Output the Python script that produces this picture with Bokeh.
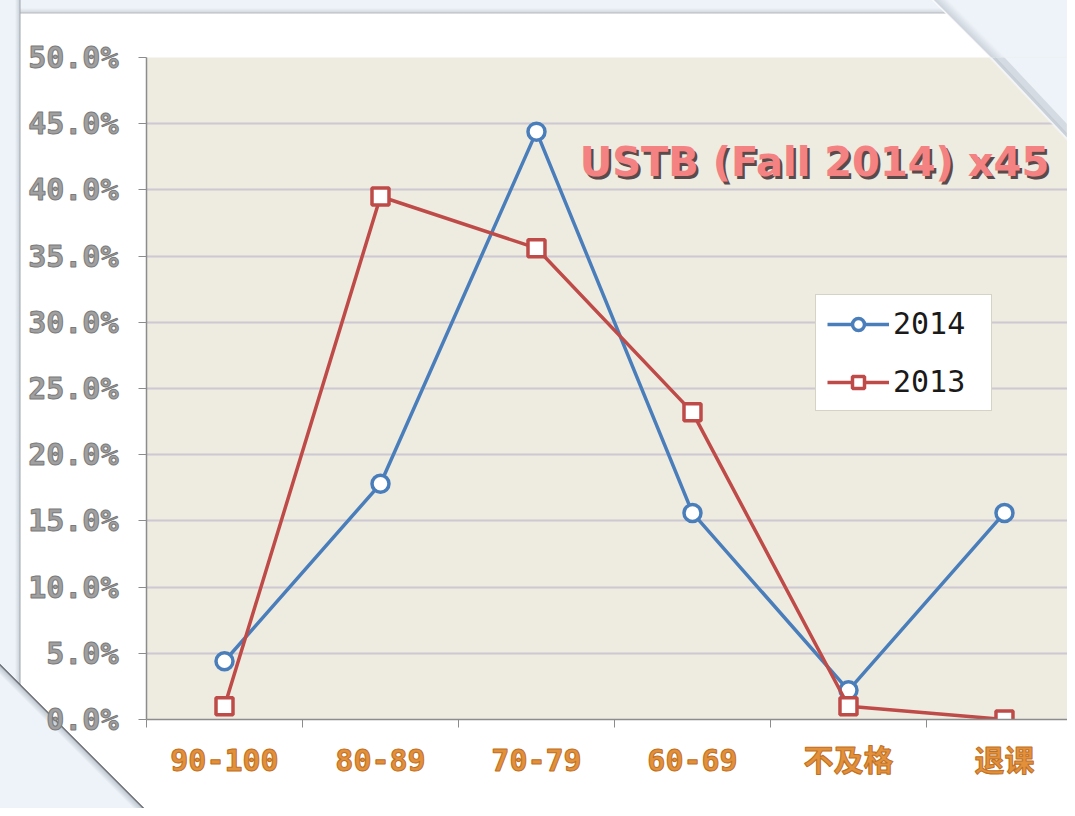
from bokeh.plotting import figure
from bokeh.models import (Range1d, FixedTicker, NumeralTickFormatter, PolyAnnotation,
                          Label, Legend, LegendItem)
from bokeh.embed import file_html
from bokeh.resources import INLINE

# ---- data ----
categories = ["90-100", "80-89", "70-79", "60-69", "不及格", "退课"]
pct_2014 = [4.4, 17.8, 44.4, 15.6, 2.2, 15.6]
pct_2013 = [1.0, 39.5, 35.6, 23.2, 1.0, 0.0]
y_tick_pct = [0, 5, 10, 15, 20, 25, 30, 35, 40, 45, 50]
series_names = ["2014", "2013"]
title_text = "USTB (Fall 2014) x45"

xs = list(range(len(categories)))
y14 = [v / 100 for v in pct_2014]
y13 = [v / 100 for v in pct_2013]

BLUE = "#4a7ebb"
RED = "#be4b48"
PAGE_BG = "#eef3f9"
BEIGE = "#eeebe1"
AXIS = "#8c8c8c"

W, H = 1067, 808
p = figure(width=W, height=H, output_backend="svg", toolbar_location=None,
           x_range=Range1d(-0.5, 5.404), y_range=Range1d(0, 0.5),
           min_border_left=146, min_border_top=57, min_border_bottom=89,
           min_border_right=0)
p.border_fill_color = None
p.border_fill_alpha = 0
p.background_fill_color = BEIGE
p.outline_line_color = None

# white card with cut corners behind the canvas (CSS background of the figure element)
card_bg = ", ".join([
    f"linear-gradient(225deg, {PAGE_BG} 0px, {PAGE_BG} 84px, #cdd4dc 93.5px, #ffffff 95px, transparent 96px)",
    f"linear-gradient(45deg, {PAGE_BG} 0px, {PAGE_BG} 94px, #c3cad2 100px, #55595e 101.5px, transparent 102.5px)",
    f"linear-gradient(to right, {PAGE_BG} 0px, {PAGE_BG} 15px, #cfd6dd 19px, #a0a5ab 20px, transparent 21px)",
    f"linear-gradient(to bottom, {PAGE_BG} 0px, {PAGE_BG} 8px, #d5dbe1 12px, #b4b9bf 13px, transparent 14px)",
    "#ffffff",
])
p.styles = {"background": card_bg}

# grid
p.xgrid.grid_line_color = None
p.ygrid.grid_line_color = "#cdc8d2"
p.ygrid.grid_line_width = 2

# y axis
p.yaxis.ticker = FixedTicker(ticks=[t / 100 for t in y_tick_pct])
p.yaxis.formatter = NumeralTickFormatter(format="0.0%")
p.yaxis.major_label_text_font = "DejaVu Sans Mono"
p.yaxis.major_label_text_font_style = "bold"
p.yaxis.major_label_text_font_size = "30px"
p.yaxis.major_label_text_color = "#a0a0a0"
p.yaxis.major_label_text_outline_color = "#7a7a7a"
p.yaxis.major_label_standoff = 20
p.yaxis.major_tick_in = 0
p.yaxis.major_tick_out = 8
p.yaxis.major_tick_line_color = AXIS
p.yaxis.minor_tick_line_color = None
p.yaxis.axis_line_color = AXIS
p.yaxis.axis_line_width = 1.5

# x axis
p.xaxis.ticker = FixedTicker(ticks=xs, minor_ticks=[i - 0.5 for i in range(len(categories) + 1)])
p.xaxis.major_label_overrides = {i: c for i, c in enumerate(categories)}
p.xaxis.major_label_text_font = "DejaVu Sans Mono, Noto Sans CJK SC"
p.xaxis.major_label_text_font_style = "bold"
p.xaxis.major_label_text_font_size = "30px"
p.xaxis.major_label_text_color = "#e3903a"
p.xaxis.major_label_text_outline_color = "#bf6f22"
p.xaxis.major_label_standoff = 15
p.xaxis.major_tick_line_color = None
p.xaxis.major_tick_out = 0
p.xaxis.major_tick_in = 0
p.xaxis.minor_tick_line_color = AXIS
p.xaxis.minor_tick_out = 8
p.xaxis.minor_tick_in = 0
p.xaxis.axis_line_color = AXIS
p.xaxis.axis_line_width = 1.5

# series
l14 = p.line(xs, y14, line_color=BLUE, line_width=3.5)
s14 = p.scatter(xs, y14, marker="circle", size=17, fill_color="white",
                line_color=BLUE, line_width=3.5)
l13 = p.line(xs, y13, line_color=RED, line_width=3.5)
s13 = p.scatter(xs, y13, marker="square", size=17, fill_color="white",
                line_color=RED, line_width=3.5)

legend = Legend(items=[LegendItem(label=series_names[0], renderers=[l14, s14]),
                       LegendItem(label=series_names[1], renderers=[l13, s13])],
                location=(669, 308))
legend.border_line_color = "#aaa78a"
legend.border_line_width = 1.5
legend.background_fill_color = "white"
legend.background_fill_alpha = 1
legend.label_text_font = "DejaVu Sans Mono"
legend.label_text_font_size = "30px"
legend.label_text_color = "#1a1a1a"
legend.glyph_width = 62
legend.glyph_height = 30
legend.label_height = 30
legend.label_width = 87
legend.label_standoff = 4
legend.spacing = 23
legend.padding = 11
legend.margin = 0
p.add_layout(legend)

# title-like label
tx, ty = 3.782, 0.4207
shadow_lbl = Label(x=tx, y=ty, x_offset=2.5, y_offset=-2.5, text=title_text,
                   text_font="DejaVu Sans", text_font_style="bold", text_font_size="40px",
                   text_color="#5b4a4a", text_align="center", text_baseline="middle")
main_lbl = Label(x=tx, y=ty, text=title_text,
                 text_font="DejaVu Sans", text_font_style="bold", text_font_size="40px",
                 text_color="#f58282", text_align="center", text_baseline="middle")
p.add_layout(shadow_lbl)
p.add_layout(main_lbl)

# top-right cut corner over the plotting area: blue corner, soft shadow, white edge
tr = PolyAnnotation(xs=[935.8, 1067, 1067], ys=[0, 0, 139.5], xs_units="canvas", ys_units="canvas",
                    fill_color=PAGE_BG, fill_alpha=1, line_color=None, level="overlay")
tr_shadow1 = PolyAnnotation(xs=[941, 1072, 1072], ys=[-5, -5, 134.5], xs_units="canvas",
                            ys_units="canvas", fill_color=None, fill_alpha=0,
                            line_color="#cdd4dc", line_width=7, line_alpha=0.8, level="overlay")
tr_shadow2 = PolyAnnotation(xs=[938, 1069, 1069], ys=[-2, -2, 137.5], xs_units="canvas",
                            ys_units="canvas", fill_color=None, fill_alpha=0,
                            line_color="#bfc7d0", line_width=3, line_alpha=0.8, level="overlay")
tr_edge = PolyAnnotation(xs=[935.8, 1067, 1067], ys=[0, 0, 139.5], xs_units="canvas",
                         ys_units="canvas", fill_color=None, fill_alpha=0,
                         line_color="#ffffff", line_width=2, level="overlay")
p.add_layout(tr)
p.add_layout(tr_shadow1)
p.add_layout(tr_shadow2)
p.add_layout(tr_edge)

open("out.html", "w").write(file_html(p, INLINE))
